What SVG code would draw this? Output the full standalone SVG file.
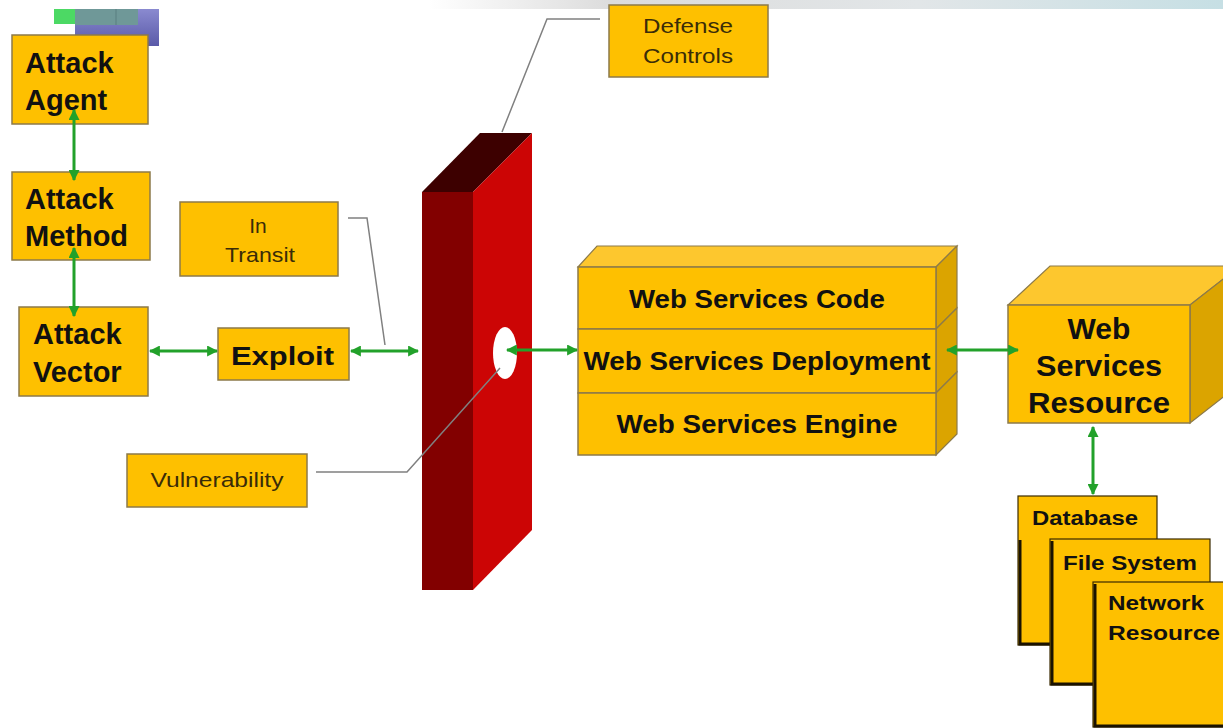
<svg xmlns="http://www.w3.org/2000/svg" width="1223" height="728" viewBox="0 0 1223 728">
  <defs>
    <linearGradient id="band" x1="0" y1="0" x2="1" y2="0">
      <stop offset="0" stop-color="#ffffff"/>
      <stop offset="0.35" stop-color="#ffffff"/>
      <stop offset="0.5" stop-color="#dcdcdc"/>
      <stop offset="0.75" stop-color="#e2e6e8"/>
      <stop offset="1" stop-color="#c6dfe4"/>
    </linearGradient>
    <linearGradient id="tile" x1="0" y1="0" x2="0" y2="1">
      <stop offset="0" stop-color="#8a8ad0"/>
      <stop offset="1" stop-color="#5a5aa8"/>
    </linearGradient>
    <marker id="ah" viewBox="0 0 10 10" refX="9" refY="5" markerUnits="userSpaceOnUse" markerWidth="11" markerHeight="11" orient="auto-start-reverse">
      <path d="M0,0 L10,5 L0,10 z" fill="#22a12a"/>
    </marker>
    <style>
      .box { fill: #fec000; stroke: #8c7a4a; stroke-width: 1.5; }
      .topf { fill: #fdc72e; stroke: #8c7a4a; stroke-width: 1.2; }
      .side { fill: #dba400; stroke: #8c7a4a; stroke-width: 1.2; }
      .big { font-family: "Liberation Sans", Arial, sans-serif; font-weight: bold; fill: #111; }
      .note { font-family: "Liberation Sans", Arial, sans-serif; font-size: 21px; fill: #3a2c08; }
      .leader { fill: none; stroke: #808080; stroke-width: 1.5; }
      .link { fill: none; stroke: #22a12a; stroke-width: 3; marker-start: url(#ah); marker-end: url(#ah); }
      .doc { fill: #fec000; stroke: #3a2a00; stroke-width: 1.2; }
      .shadow { fill: none; stroke: #1a1200; stroke-width: 3; }
    </style>
  </defs>

  <!-- page header band and corner tiles -->
  <rect x="0" y="0" width="1223" height="9" fill="url(#band)"/>
  <rect x="75" y="9" width="84" height="37" fill="url(#tile)"/>
  <rect x="75" y="9" width="63" height="16" fill="#6f9898"/>
  <line x1="116" y1="9" x2="116" y2="25" stroke="#5a7f80" stroke-width="1"/>
  <rect x="54" y="9" width="21" height="15" fill="#4cd964"/>

  <!-- attacker side -->
  <g id="attack-agent">
    <rect class="box" x="12" y="35" width="136" height="89"/>
    <text class="big" font-size="29" x="25" y="73">Attack</text>
    <text class="big" font-size="29" x="25" y="110">Agent</text>
  </g>
  <g id="attack-method">
    <rect class="box" x="12" y="172" width="138" height="88"/>
    <text class="big" font-size="29" x="25" y="209">Attack</text>
    <text class="big" font-size="29" x="25" y="246">Method</text>
  </g>
  <g id="attack-vector">
    <rect class="box" x="19" y="307" width="129" height="89"/>
    <text class="big" font-size="29" x="33" y="344">Attack</text>
    <text class="big" font-size="29" x="33" y="382">Vector</text>
  </g>
  <g id="exploit">
    <rect class="box" x="218" y="328" width="131" height="52"/>
    <text class="big" font-size="25" x="231" y="365" textLength="103" lengthAdjust="spacingAndGlyphs">Exploit</text>
  </g>

  <!-- callouts -->
  <g id="in-transit">
    <rect class="box" x="180" y="202" width="158" height="74"/>
    <text class="note" x="258" y="233" text-anchor="middle">In</text>
    <text class="note" x="260" y="262" text-anchor="middle" textLength="70" lengthAdjust="spacingAndGlyphs">Transit</text>
    <polyline class="leader" points="348,218 367,218 385,345"/>
  </g>
  <g id="defense-controls">
    <rect class="box" x="609" y="5" width="159" height="72"/>
    <text class="note" x="688" y="33" text-anchor="middle" textLength="90" lengthAdjust="spacingAndGlyphs">Defense</text>
    <text class="note" x="688" y="63" text-anchor="middle" textLength="90" lengthAdjust="spacingAndGlyphs">Controls</text>
    <polyline class="leader" points="600,19 547,19 502,132"/>
  </g>

  <!-- firewall slab with the vulnerability hole -->
  <g id="defense-wall">
    <polygon points="422,192 480,133 532,133 473,192" fill="#3d0000"/>
    <polygon points="473,192 532,133 532,530 473,590" fill="#cc0505"/>
    <rect x="422" y="192" width="51" height="398" fill="#820000"/>
    <ellipse cx="505" cy="353" rx="12" ry="26" fill="#ffffff"/>
  </g>
  <g id="vulnerability">
    <rect class="box" x="127" y="454" width="180" height="53"/>
    <text class="note" x="217" y="487" text-anchor="middle" textLength="133" lengthAdjust="spacingAndGlyphs">Vulnerability</text>
    <polyline class="leader" points="316,472 407,472 500,368"/>
  </g>

  <!-- web services stack -->
  <g id="web-services-stack">
    <polygon class="topf" points="578,267 597,246 957,246 936,267"/>
    <polygon class="side" points="936,267 957,246 957,308 936,329"/>
    <polygon class="side" points="936,329 957,308 957,372 936,393"/>
    <polygon class="side" points="936,393 957,372 957,434 936,455"/>
    <rect class="box" x="578" y="267" width="358" height="62"/>
    <rect class="box" x="578" y="329" width="358" height="64"/>
    <rect class="box" x="578" y="393" width="358" height="62"/>
    <text class="big" font-size="25" x="757" y="308" text-anchor="middle" textLength="256" lengthAdjust="spacingAndGlyphs">Web Services Code</text>
    <text class="big" font-size="25" x="757" y="370" text-anchor="middle" textLength="347" lengthAdjust="spacingAndGlyphs">Web Services Deployment</text>
    <text class="big" font-size="25" x="757" y="433" text-anchor="middle" textLength="281" lengthAdjust="spacingAndGlyphs">Web Services Engine</text>
  </g>

  <!-- resource cube -->
  <g id="web-services-resource">
    <polygon class="topf" points="1008,305 1050,266 1240,266 1190,305"/>
    <polygon class="side" points="1190,305 1240,266 1240,384 1190,423"/>
    <rect class="box" x="1008" y="305" width="182" height="118"/>
    <text class="big" font-size="30" x="1099" y="339" text-anchor="middle">Web</text>
    <text class="big" font-size="30" x="1099" y="376" text-anchor="middle" textLength="126" lengthAdjust="spacingAndGlyphs">Services</text>
    <text class="big" font-size="30" x="1099" y="413" text-anchor="middle" textLength="142" lengthAdjust="spacingAndGlyphs">Resource</text>
  </g>

  <!-- backing stores -->
  <g id="database">
    <rect class="doc" x="1018" y="496" width="139" height="149"/>
    <polyline class="shadow" points="1020,540 1020,644 1050,644"/>
    <text class="big" font-size="20" x="1032" y="525" textLength="106" lengthAdjust="spacingAndGlyphs">Database</text>
  </g>
  <g id="file-system">
    <rect class="doc" x="1050" y="539" width="160" height="146"/>
    <polyline class="shadow" points="1052,541 1052,684 1093,684"/>
    <text class="big" font-size="20" x="1063" y="570" textLength="134" lengthAdjust="spacingAndGlyphs">File System</text>
  </g>
  <g id="network-resource">
    <rect class="doc" x="1093" y="582" width="140" height="145"/>
    <polyline class="shadow" points="1095,584 1095,726 1223,726"/>
    <text class="big" font-size="20" x="1108" y="610" textLength="96" lengthAdjust="spacingAndGlyphs">Network</text>
    <text class="big" font-size="20" x="1108" y="640" textLength="112" lengthAdjust="spacingAndGlyphs">Resource</text>
  </g>

  <!-- two-way links -->
  <g id="connectors">
    <line class="link" x1="74" y1="110" x2="74" y2="180"/>
    <line class="link" x1="74" y1="248" x2="74" y2="316"/>
    <line class="link" x1="150" y1="351" x2="217" y2="351"/>
    <line class="link" x1="351" y1="351" x2="418" y2="351"/>
    <line class="link" x1="507" y1="350" x2="577" y2="350"/>
    <line class="link" x1="947" y1="350" x2="1018" y2="350"/>
    <line class="link" x1="1093" y1="427" x2="1093" y2="494"/>
  </g>
</svg>
